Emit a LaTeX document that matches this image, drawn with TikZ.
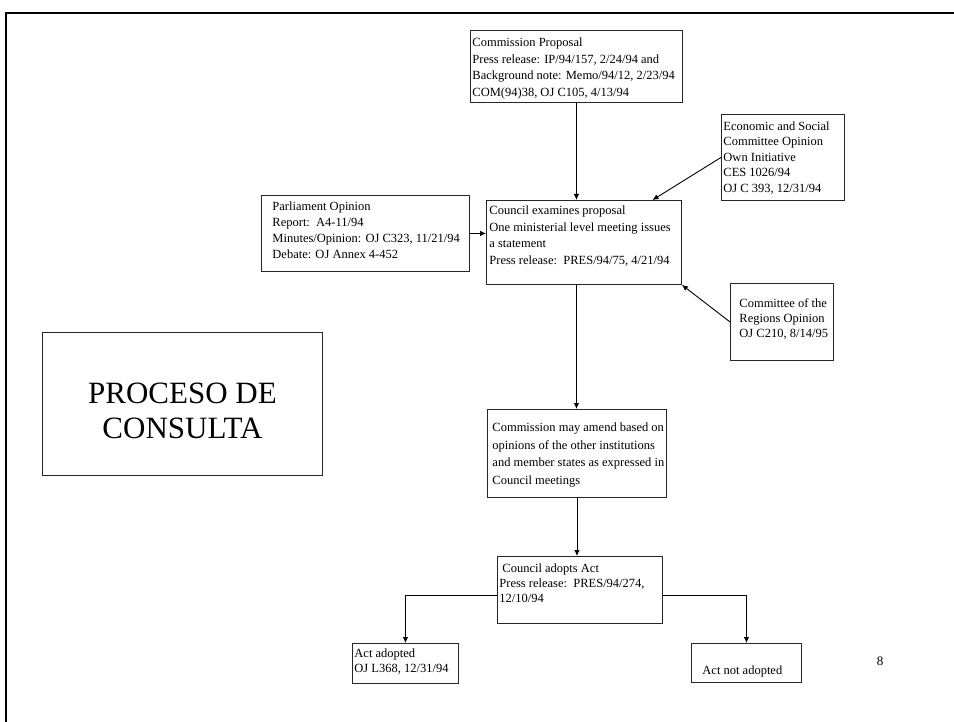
\documentclass[tikz,border=0pt]{standalone}
\usepackage{fontspec}
\setmainfont{Liberation Serif}
\usetikzlibrary{arrows.meta}
\usetikzlibrary{calc}

% #1 width, #2 height, #3 left pad, #4 top pad, #5 line skip, #6 lines
\newcommand{\cardtext}[6]{\parbox[c][#2pt][t]{#1pt}{\vspace*{#4pt}\fontsize{12.5}{#5}\selectfont\hspace*{#3pt}\begin{tabular}{@{}l@{}}#6\end{tabular}}}

\begin{document}
\begin{tikzpicture}[x=1pt,y=-1pt,
  card/.style={draw=black!85,line width=0.9pt,anchor=north west,inner sep=0pt},
  link/.style={line width=0.9pt,-{Latex[length=6pt,width=5.5pt]}}]
\useasboundingbox (0,0) rectangle (954,722);
\draw[line width=2.5pt] (6,722) -- (6,13) -- (954,13);

\node[card] (prop) at (470,30) {\cardtext{212}{72}{2}{5}{16.5}{Commission Proposal\\Press release: IP/94/157, 2/24/94 and\\Background note: Memo/94/12, 2/23/94\\COM(94)38, OJ C105, 4/13/94}};
\node[card] (econ) at (721,114) {\cardtext{123}{86}{2}{5}{15.5}{Economic and Social\\Committee Opinion\\Own Initiative\\CES 1026/94\\OJ C 393, 12/31/94}};
\node[card] (parl) at (261,195) {\cardtext{208}{76}{11}{4}{16}{Parliament Opinion\\Report:\ \ A4-11/94\\Minutes/Opinion: OJ C323, 11/21/94\\Debate: OJ Annex 4-452}};
\node[card] (exam) at (486,200) {\cardtext{195}{84}{3}{3}{16.5}{Council examines proposal\\One ministerial level meeting issues\\a statement\\Press release:\ \ PRES/94/75, 4/21/94}};
\node[card] (reg) at (730,283) {\cardtext{103}{77}{9}{14}{15}{Committee of the\\Regions Opinion\\OJ C210, 8/14/95}};
\node[card] (amend) at (487,409) {\cardtext{179}{88}{5}{10}{17.5}{Commission may amend based on\\opinions of the other institutions\\and member states as expressed in\\Council meetings}};
\node[card] (adopt) at (497,556) {\cardtext{165}{67}{2}{6}{15}{\hspace{3pt}Council adopts Act\\Press release:\ \ PRES/94/274,\\12/10/94}};
\node[card] (yes) at (352,643) {\cardtext{106}{40}{2}{4}{15}{Act adopted\\OJ L368, 12/31/94}};
\node[card] (no) at (691,643) {\cardtext{110}{39}{11}{21}{15}{Act not adopted}};

\node[card] (title) at (42,332) {\parbox[c][143pt][t]{280pt}{\vspace*{50.5pt}\centering\fontsize{31}{35}\selectfont PROCESO DE\\CONSULTA}};
\node[font=\fontsize{13}{15}\selectfont] (page) at (880,661) {8};

\draw[link] (prop.south) -- (prop.south |- exam.north);
\draw[link] (econ.west) -- ($(exam.north west)!0.85!(exam.north east)$);
\draw[link] (parl.east) -- (parl.east -| exam.west);
\draw[link] (reg.west) -- (exam.south east);
\draw[link] (exam.south -| prop.south) -- (amend.north -| prop.south);
\draw[link] (amend.south) -- (amend.south |- adopt.north);
\draw[link] ([yshift=-5pt]adopt.west) -| (yes.north);
\draw[link] ([yshift=-5pt]adopt.east) -| (no.north);

\end{tikzpicture}
\end{document}
